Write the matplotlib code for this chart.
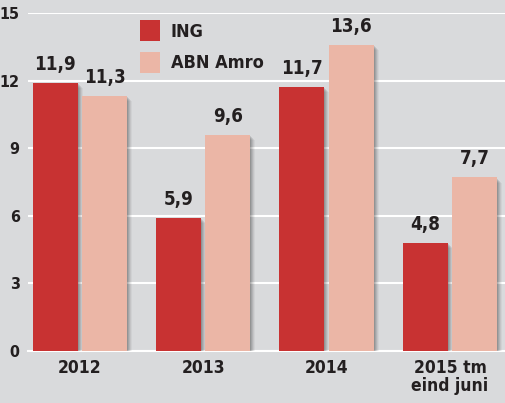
import matplotlib.pyplot as plt
import numpy as np

categories = ["2012", "2013", "2014", "2015 tm\neind juni"]
ing = [11.9, 5.9, 11.7, 4.8]
abn = [11.3, 9.6, 13.6, 7.7]
labels_ing = ["11,9", "5,9", "11,7", "4,8"]
labels_abn = ["11,3", "9,6", "13,6", "7,7"]
yticks = [0, 3, 6, 9, 12, 15]

bg = "#d9dadc"
red = "#c83232"
pink = "#ebb6a6"
txt = "#231f20"
fam = "DejaVu Sans"

fig = plt.figure(figsize=(5.05, 4.03), dpi=100, facecolor=bg)
ax = fig.add_axes([28 / 505, 52 / 403, 477 / 505, 338 / 403], facecolor=bg)

x = np.arange(len(categories))
w = 0.365
off = 0.2

# drop shadows: a few offset layers
for k, a in [(1, 0.10), (2, 0.09), (3, 0.08), (4, 0.06), (5, 0.04)]:
    dx = k * 0.008
    dy = k * 0.045
    for xs, vals in [(x - off, ing), (x + off, abn)]:
        ax.bar(xs + dx, vals, w, bottom=-dy, color="black",
               alpha=a, zorder=2, linewidth=0)

b1 = ax.bar(x - off, ing, w, color=red, zorder=3, linewidth=0, label="ING")
b2 = ax.bar(x + off, abn, w, color=pink, zorder=3, linewidth=0, label="ABN Amro")

font = dict(family=fam, stretch="condensed", weight="bold", color=txt)
for xi, v, s in zip(x - off, ing, labels_ing):
    ax.text(xi, v + 0.4, s, ha="center", va="bottom", fontsize=13.5, **font)
for xi, v, s in zip(x + off, abn, labels_abn):
    ax.text(xi, v + 0.4, s, ha="center", va="bottom", fontsize=13.5, **font)

ax.set_xlim(-0.42, 3.446)
ax.set_ylim(0, 15)
ax.set_yticks(yticks)
ax.set_yticklabels([str(t) for t in yticks])
ax.set_xticks(x)
ax.set_xticklabels(categories, linespacing=1.0)
for lab in ax.get_xticklabels():
    lab.set_family(fam)
    lab.set_stretch("condensed")
    lab.set_fontsize(12.5)
    lab.set_fontweight("bold")
    lab.set_color(txt)
for lab in ax.get_yticklabels():
    lab.set_family(fam)
    lab.set_stretch("condensed")
    lab.set_fontsize(11.5)
    lab.set_fontweight("bold")
    lab.set_color(txt)
ax.tick_params(length=0, pad=6)
ax.tick_params(axis="y", pad=6)
ax.grid(axis="y", color="white", linewidth=1.5, zorder=1)
ax.set_axisbelow(True)
for sp in ax.spines.values():
    sp.set_visible(False)
ax.axhline(0, color="white", linewidth=1.5, zorder=1, clip_on=False)

leg = ax.legend(handles=[b1, b2], loc="upper left", bbox_to_anchor=(0.22, 1.0),
                frameon=False, handlelength=1.1, handleheight=1.4,
                prop={"family": fam, "stretch": "condensed", "size": 13, "weight": "bold"},
                labelspacing=0.6, handletextpad=0.6, borderaxespad=0)
for t in leg.get_texts():
    t.set_color(txt)

fig.savefig("out.png", dpi=100, facecolor=bg)
